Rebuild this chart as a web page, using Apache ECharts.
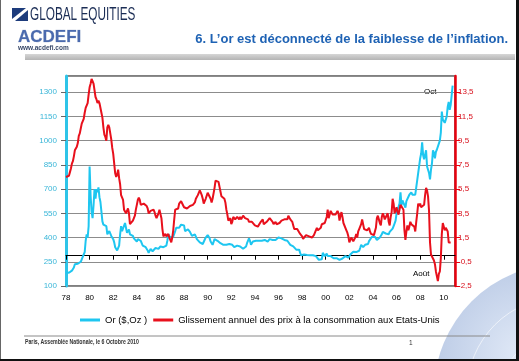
<!DOCTYPE html>
<html><head><meta charset="utf-8">
<script src="https://cdn.jsdelivr.net/npm/echarts@6/dist/echarts.min.js"></script>
<style>html,body{margin:0;padding:0;background:#fff}#c{width:519px;height:361px}</style>
</head><body><div id="c"></div>
<script>
const startYear = 1978;
const goldName = 'Or ($,Oz )';
const cpiName = 'Glissement annuel des prix à la consommation aux Etats-Unis';
// Gold, monthly from Jan 1978 to Oct 2010 ($/oz)
const gold = [
185,188,190,182,185,188,195,205,215,235,225,230,
238,250,245,250,262,280,295,310,380,420,400,470,
840,660,560,520,600,700,640,700,680,710,650,620,
560,500,480,490,480,470,420,430,440,430,410,400,
390,370,340,330,320,315,350,420,470,440,430,450,
490,480,430,440,450,420,420,415,410,395,390,385,
375,390,395,380,380,375,350,350,345,340,340,320,
305,300,330,325,315,320,320,335,325,325,330,325,
345,340,345,340,345,345,350,380,420,420,400,390,
410,405,410,440,460,450,460,460,465,480,485,480,
475,440,445,450,450,440,435,430,410,410,420,420,
405,390,385,385,370,365,370,360,360,370,400,410,
415,415,395,375,365,355,360,390,400,380,380,375,
380,365,360,355,355,365,365,355,350,355,360,360,
355,355,345,340,340,340,350,340,345,345,335,335,
330,330,330,345,365,370,395,380,355,365,375,385,
385,380,385,380,380,385,385,380,390,390,385,380,
380,375,380,390,385,385,385,385,385,385,385,385,
400,405,400,395,390,385,385,385,380,380,380,370,
355,345,350,345,345,340,325,325,325,325,305,290,
290,298,295,305,300,292,293,285,290,295,295,290,
288,288,285,282,278,262,256,256,265,305,295,285,
285,300,285,280,275,285,282,275,272,272,268,272,
265,262,262,260,270,270,266,272,285,282,275,275,
282,295,295,302,312,320,312,310,320,315,318,335,
355,360,340,330,355,355,350,360,378,380,390,405,
410,405,405,395,385,390,395,400,405,420,435,440,
425,425,435,430,420,435,425,440,455,470,475,505,
550,555,560,610,680,600,630,630,600,585,625,630,
630,665,655,680,665,655,665,665,710,755,800,800,
890,920,990,910,885,890,940,840,830,800,760,820,
860,940,925,890,930,945,935,950,1000,1050,1180,1130,
1120,1110,1110,1150,1210,1240,1190,1220,1280,1340
];
// US CPI year-on-year (%), monthly from Jan 1978 to Aug 2010
const cpi = [
6.5,6.4,6.5,6.6,6.9,7.2,7.6,7.8,8.2,8.7,8.8,9.0,
9.3,9.9,10.1,10.5,10.9,10.9,11.3,11.8,12.2,12.1,12.6,13.3,
13.9,14.2,14.6,14.4,14.2,14.1,13.1,12.9,12.6,12.8,12.6,12.5,
11.8,11.4,10.6,10.0,9.8,9.5,10.6,10.8,10.6,10.1,9.6,8.9,
8.4,7.6,6.8,6.5,6.7,7.1,6.4,5.9,5.0,5.1,4.6,3.8,
3.7,3.5,3.6,3.9,3.5,2.6,2.5,2.6,2.9,2.9,3.3,3.8,
4.2,4.6,4.8,4.6,4.2,4.2,4.2,4.3,4.3,4.3,4.1,3.9,
3.5,3.5,3.7,3.7,3.8,3.8,3.6,3.3,3.1,3.2,3.5,3.8,
3.9,3.1,2.2,1.6,1.5,1.8,1.6,1.6,1.8,1.5,1.3,1.1,
1.5,2.1,3.0,3.8,3.9,3.7,3.9,4.3,4.4,4.5,4.5,4.4,
4.0,3.9,3.9,3.9,3.9,4.0,4.1,4.0,4.2,4.2,4.2,4.4,
4.7,4.8,5.0,5.1,5.4,5.2,5.0,4.7,4.3,4.5,4.7,4.6,
5.2,5.3,5.2,4.7,4.4,4.7,4.8,5.6,6.2,6.3,6.3,6.1,
5.7,5.3,4.9,4.9,5.0,4.7,4.4,3.8,3.4,2.9,3.0,3.1,
2.6,2.8,3.2,3.2,3.0,3.1,3.2,3.1,3.0,3.2,3.0,2.9,
3.3,3.2,3.1,3.2,3.2,3.0,2.8,2.8,2.7,2.8,2.7,2.7,
2.5,2.5,2.5,2.4,2.3,2.5,2.8,2.9,3.0,2.6,2.7,2.7,
2.8,2.9,2.9,3.1,3.2,3.0,2.8,2.6,2.5,2.8,2.6,2.5,
2.7,2.7,2.8,2.9,2.9,2.8,3.0,2.9,3.0,3.0,3.3,3.3,
3.0,3.0,2.8,2.5,2.2,2.3,2.2,2.2,2.2,2.1,1.8,1.7,
1.6,1.4,1.4,1.4,1.7,1.7,1.7,1.6,1.5,1.5,1.5,1.6,
1.7,1.6,1.7,2.3,2.1,2.0,2.1,2.3,2.6,2.6,2.6,2.7,
2.7,3.2,3.8,3.1,3.2,3.7,3.7,3.4,3.5,3.4,3.4,3.4,
3.7,3.5,2.9,3.3,3.6,3.2,2.7,2.7,2.6,2.1,1.9,1.6,
1.1,1.1,1.5,1.6,1.2,1.1,1.5,1.8,1.5,2.0,2.2,2.4,
2.6,3.0,3.0,2.2,2.1,2.1,2.1,2.2,2.3,2.0,1.8,1.9,
1.9,1.7,1.7,2.3,3.1,3.3,3.0,2.7,2.5,3.2,3.5,3.3,
3.0,3.0,3.1,3.5,2.8,2.5,3.2,3.6,4.7,4.3,3.5,3.4,
4.0,3.6,3.4,3.5,4.2,4.3,4.1,3.8,2.1,1.3,2.0,2.5,
2.1,2.4,2.8,2.6,2.7,2.7,2.4,2.0,2.8,3.5,4.3,4.1,
4.3,4.0,4.0,3.9,4.2,5.0,5.6,5.4,4.9,3.7,1.1,0.1,
0.0,0.2,-0.4,-0.7,-1.3,-1.4,-2.1,-1.5,-1.3,-0.2,1.8,2.7,
2.6,2.1,2.3,2.2,2.0,1.1,1.2,1.1
];
const goldTicks = [100,250,400,550,700,850,1000,1150,1300];
const cpiTicks = [-2.5,-0.5,1.5,3.5,5.5,7.5,9.5,11.5,13.5];
const xMin = 1978, xMax = 2010.95;

const FF = "'Liberation Sans', Arial, sans-serif";
const chart = echarts.init(document.getElementById('c'), null, {renderer:'canvas'});
const goldData = gold.map((v,i)=>[startYear + i/12, v]);
const cpiData = cpi.map((v,i)=>[startYear + i/12, v]);

chart.setOption({
  animation:false,
  backgroundColor:'#fff',
  textStyle:{fontFamily:FF},
  grid:{left:66, right:64, top:76, bottom:75, show:true, borderColor:'#000', borderWidth:1, backgroundColor:'transparent'},
  legend:{
    data:[goldName, cpiName], top:315, left:80, icon:'rect', itemWidth:20, itemHeight:3, itemGap:6,
    textStyle:{fontSize:9.5, color:'#000', fontFamily:FF}, padding:0
  },
  xAxis:{
    type:'value', min:xMin, max:xMax, interval:2,
    axisLine:{lineStyle:{color:'#000', width:1}},
    axisTick:{show:true, length:4, lineStyle:{color:'#000'}},
    axisLabel:{showMaxLabel:false, fontSize:8, color:'#000', margin:8, fontFamily:FF,
      formatter:v=> (v > 2010.5) ? '' : String(Math.round(v)%100).padStart(2,'0')},
    splitLine:{show:false}
  },
  yAxis:[
    {type:'value', min:100, max:1400, position:'left',
     axisLine:{show:true, lineStyle:{color:'#2ec4e8', width:3}},
     axisTick:{show:true, customValues:goldTicks, length:5, lineStyle:{color:'#666'}},
     axisLabel:{customValues:goldTicks, color:'#3ab6d8', fontSize:8, margin:9, fontFamily:FF,
       formatter:v=>String(v)},
     splitLine:{show:false}},
    {type:'value', min:-2.5, max:14.8333333, position:'right',
     axisLine:{show:true, lineStyle:{color:'#e8000e', width:2.5}},
     axisTick:{show:true, customValues:cpiTicks, length:5, lineStyle:{color:'#e8000e'}},
     axisLabel:{customValues:cpiTicks, color:'#d8101c', fontSize:8, margin:3, fontFamily:FF,
       formatter:v=>v.toFixed(1).replace('.',',')},
     splitLine:{show:false}},
    {type:'value', min:0, max:1300, interval:150, position:'left',
     axisLine:{show:false}, axisTick:{show:false}, axisLabel:{show:false},
     splitLine:{show:true, lineStyle:{color:'#8c8c8c', width:1}}}
  ],
  series:[
    {name:goldName, type:'line', yAxisIndex:0, data:goldData, showSymbol:false, symbol:'none',
     lineStyle:{color:'#1ec6f0', width:2}, itemStyle:{color:'#1ec6f0'}, z:2},
    {name:cpiName, type:'line', yAxisIndex:1, data:cpiData, showSymbol:false, symbol:'none',
     lineStyle:{color:'#e8101c', width:2}, itemStyle:{color:'#e8101c'}, z:3}
  ],
  graphic:[
    // globe decoration
    {type:'circle', shape:{cx:562, cy:392, r:128}, z:-10,
     style:{fill:new echarts.graphic.RadialGradient(0.35,0.35,0.8,[{offset:0,color:'#dce6f6'},{offset:1,color:'#7a96c8'}]), opacity:0.85}},
    {type:'circle', shape:{cx:562, cy:392, r:95}, z:-9, style:{fill:'none', stroke:'#ffffff', lineWidth:1, opacity:0.6}},
    {type:'circle', shape:{cx:562, cy:392, r:60}, z:-9, style:{fill:'none', stroke:'#ffffff', lineWidth:1, opacity:0.6}},
    // logo top-left
    {type:'rect', shape:{x:12, y:8, width:16, height:13}, style:{fill:'#1d3c7c'}},
    {type:'polygon', shape:{points:[[12,19],[26,8],[28,8],[28,10],[15,21],[12,21]]}, style:{fill:'#ffffff'}},
    {type:'text', x:30, y:5, scaleX:0.62, style:{text:'GLOBAL EQUITIES', font:"19px 'Liberation Sans', Arial", fill:'#1b2d55'}},
    {type:'text', x:18, y:29, style:{text:'ACDEFI', font:"bold 17px 'Liberation Sans', Arial", fill:'#4a6aae', stroke:'#b8c4d8', lineWidth:0.5}},
    {type:'text', x:18, y:45, style:{text:'www.acdefi.com', font:"bold 6.5px 'Liberation Sans', Arial", fill:'#3a4a6a'}},
    // title
    {type:'text', x:508, y:33, style:{text:'6. L’or est déconnecté de la faiblesse de l’inflation.', font:"bold 13px 'Liberation Sans', Arial", fill:'#1e62b4', align:'right'}},
    {type:'rect', shape:{x:25, y:54, width:490, height:6}, style:{fill:new echarts.graphic.LinearGradient(0,0,0,1,[{offset:0,color:'#d6d6d6'},{offset:1,color:'#b4b4b4'}])}},
    // annotations
    {type:'text', x:424, y:88, style:{text:'Oct', font:"8px 'Liberation Sans', Arial", fill:'#000'}},
    {type:'text', x:413, y:270, style:{text:'Août', font:"8px 'Liberation Sans', Arial", fill:'#000'}},
    // footer
    {type:'line', shape:{x1:24, y1:336, x2:490, y2:336}, style:{stroke:'#8a8a8a', lineWidth:1}},
    {type:'text', x:25, y:339, scaleX:0.8, style:{text:'Paris, Assemblée Nationale, le 6 Octobre 2010', font:"bold 6.5px 'Liberation Sans', Arial", fill:'#333'}},
    {type:'text', x:409, y:340, style:{text:'1', font:"6.5px 'Liberation Sans', Arial", fill:'#333'}},
    // slide frame
    {type:'rect', shape:{x:0, y:0, width:1, height:361}, style:{fill:'#666'}},
    {type:'rect', shape:{x:516, y:0, width:3, height:361}, style:{fill:'#111'}},
    {type:'rect', shape:{x:0, y:359, width:519, height:2}, style:{fill:'#111'}}
  ]
});
</script></body></html>
